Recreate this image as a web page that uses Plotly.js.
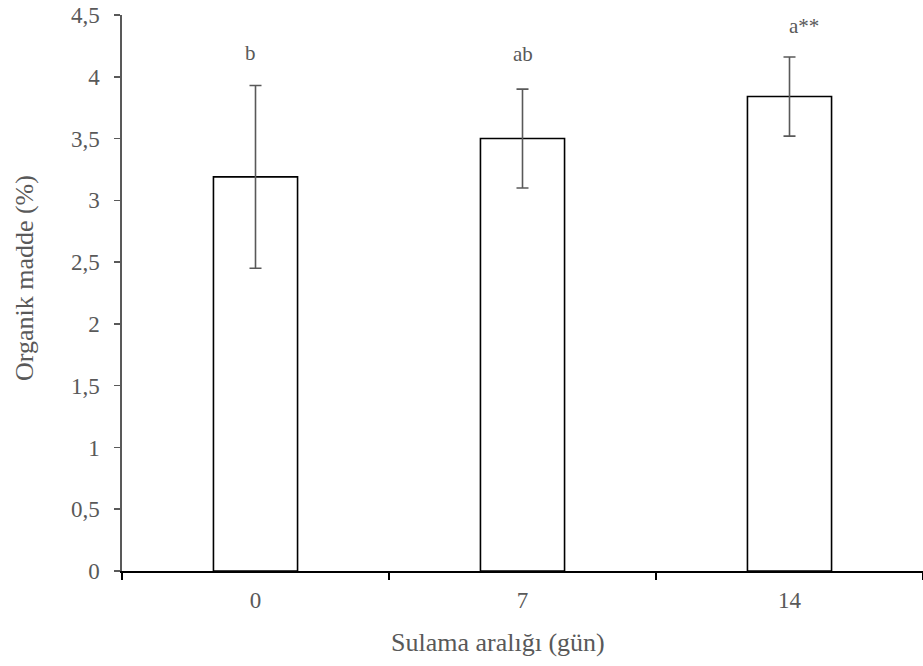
<!DOCTYPE html>
<html>
<head>
<meta charset="utf-8">
<script src="https://cdn.plot.ly/plotly-3.0.1.min.js"></script>
<style>html,body{margin:0;padding:0;background:#fff;}#chart{width:923px;height:666px;}</style>
</head>
<body>
<div id="chart"></div>
<script>
// Data
const categories = ["0", "7", "14"];
const values = [3.19, 3.50, 3.84];
const errors = [0.74, 0.40, 0.32];
const groupLetters = ["b", "ab", "a**"];
const letterY = [4.08, 4.07, 4.30];
const yTickVals = [0, 0.5, 1, 1.5, 2, 2.5, 3, 3.5, 4, 4.5];
const yTickText = ["0", "0,5", "1", "1,5", "2", "2,5", "3", "3,5", "4", "4,5"];
const xTitle = "Sulama aralığı (gün)";
const yTitle = "Organik madde (%)";

const FONT = "Liberation Serif, Times New Roman, serif";
const GREY = "#595959";

const trace = {
  type: "bar",
  x: categories,
  y: values,
  width: 0.315,
  marker: {color: "#ffffff", line: {color: "#000000", width: 1.6}},
  error_y: {type: "data", array: errors, visible: true, color: GREY, thickness: 1.6, width: 6},
  hoverinfo: "skip"
};

// annotations placed by category index on the category axis
const annotations = groupLetters.map((t, i) => ({
  x: i, y: letterY[i], xref: "x", yref: "y",
  text: t, showarrow: false, xanchor: "center", yanchor: "bottom",
  xshift: i === 2 ? 14 : (i === 0 ? -5 : 0),
  font: {family: FONT, size: 21, color: GREY}
}));
annotations.push({
  xref: "paper", yref: "paper", x: 0.469, y: -0.128, text: xTitle, showarrow: false,
  xanchor: "center", yanchor: "middle", font: {family: FONT, size: 26, color: GREY}
});
annotations.push({
  xref: "paper", yref: "paper", x: -0.121, y: 0.527, text: yTitle, showarrow: false,
  textangle: -90, xanchor: "center", yanchor: "middle", font: {family: FONT, size: 26, color: GREY}
});

const layout = {
  width: 923, height: 666,
  margin: {l: 122, r: 0, t: 15, b: 95, pad: 0},
  paper_bgcolor: "#ffffff", plot_bgcolor: "#ffffff",
  showlegend: false,
  font: {family: FONT, color: GREY},
  xaxis: {
    type: "category", range: [-0.5, 2.5], tickson: "boundaries",
    showline: true, linecolor: "#000000", linewidth: 1.6,
    ticks: "outside", ticklen: 7, tickcolor: "#000000", tickwidth: 1.6,
    ticklabelstandoff: 8,
    showgrid: false, zeroline: false,
    tickfont: {family: FONT, size: 23, color: GREY},
    fixedrange: true
  },
  yaxis: {
    range: [0, 4.5], tickvals: yTickVals, ticktext: yTickText,
    showline: true, linecolor: GREY, linewidth: 1.6,
    ticks: "outside", ticklen: 6, tickcolor: GREY, tickwidth: 1.6,
    ticklabelstandoff: 10,
    showgrid: false, zeroline: false,
    tickfont: {family: FONT, size: 23, color: GREY},
    fixedrange: true
  },
  annotations: annotations
};

Plotly.newPlot("chart", [trace], layout, {displayModeBar: false, staticPlot: true});
</script>
</body>
</html>
